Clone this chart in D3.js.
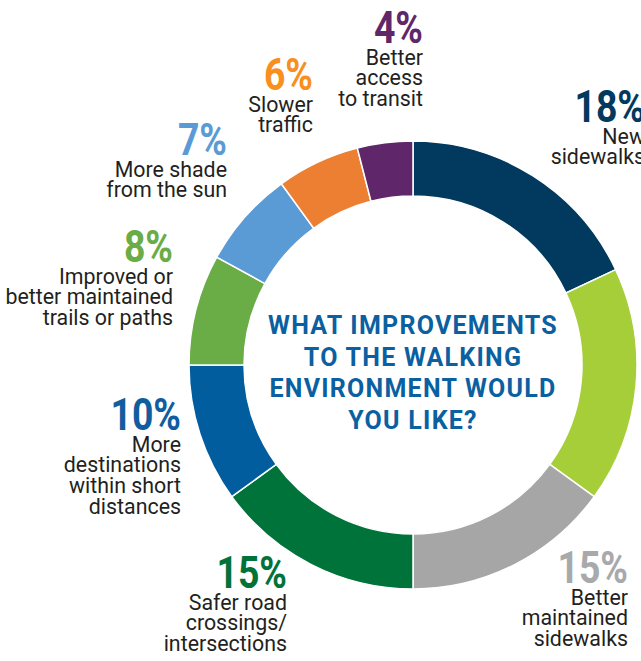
<!DOCTYPE html>
<meta charset="utf-8">
<script src="https://cdn.jsdelivr.net/npm/d3@7"></script>
<style>
  body { margin: 0; background: #fff; }
  text { font-family: Roboto, sans-serif; }
</style>
<div id="chart"></div>
<script>

    // data (clockwise from 12 o'clock)
    const categories = ["New sidewalks", "Better maintained sidewalks (lime)", "Better maintained sidewalks",
        "Safer road crossings/intersections", "More destinations within short distances",
        "Improved or better maintained trails or paths", "More shade from the sun",
        "Slower traffic", "Better access to transit"]
    const values = [18, 17, 15, 15, 10, 8, 7, 6, 4]
    const sliceColors = ["#02395e", "#a6ce39", "#a6a6a6", "#00733a", "#015d9e", "#6aac46", "#5b9bd5", "#ed7f32", "#5f2669"]
    const labelColors = ["#02395e", "#a6ce39", "#a7a9ac", "#00733a", "#105ea0", "#6aac46", "#5b9bd5", "#f7901e", "#5f2669"]
    const labelLines = [
        ["New", "sidewalks"],
        null,
        ["Better", "maintained", "sidewalks"],
        ["Safer road", "crossings/", "intersections"],
        ["More", "destinations", "within short", "distances"],
        ["Improved or", "better maintained", "trails or paths"],
        ["More shade", "from the sun"],
        ["Slower", "traffic"],
        ["Better", "access", "to transit"]
    ]
    const titleLines = ["WHAT IMPROVEMENTS", "TO THE WALKING", "ENVIRONMENT WOULD", "YOU LIKE?"]

    // layout: right edge and baseline of each percentage label
    const labelAnchor = [[645, 122], null, [628, 583], [287, 588], [181, 430], [173, 262], [227, 155], [313, 90], [423, 43]]

    const width = 641, height = 661
    const cx = 413, cy = 365, outerR = 224, innerR = 169

    const svg = d3.select("#chart")
        .append("svg")
        .attr("width", width)
        .attr("height", height)

    const pie = d3.pie().sort(null).value(d => d)
    const arc = d3.arc().innerRadius(innerR).outerRadius(outerR)

    const donut = svg.append("g").attr("transform", `translate(${cx}, ${cy})`)
    donut.selectAll("path")
        .data(pie(values))
        .join("path")
        .attr("d", arc)
        .attr("fill", (d, i) => sliceColors[i])
        .attr("stroke", "#fff")
        .attr("stroke-width", 1.5)

    // centre question
    donut.append("text")
        .attr("text-anchor", "middle")
        .attr("fill", "#0a60a0")
        .style("font-weight", 700)
        .style("font-size", "25px")
        .style("letter-spacing", "1.25px")
        .selectAll("tspan")
        .data(titleLines)
        .join("tspan")
        .attr("x", 0)
        .attr("y", (d, i) => -31 + i * 31.7)
        .text(d => d)

    // labels: big percentage, then the description underneath
    values.forEach(function (v, i) {
        if (!labelAnchor[i]) return
        const [x, y] = labelAnchor[i]
        svg.append("text")
            .attr("transform", `translate(${x}, ${y}) scale(0.85, 1)`)
            .attr("text-anchor", "end")
            .attr("fill", labelColors[i])
            .style("font-weight", 700)
            .style("font-size", "44px")
            .text(v + "%")
        svg.append("text")
            .attr("transform", `translate(${x}, ${y}) scale(0.93, 1)`)
            .attr("text-anchor", "end")
            .attr("fill", "#231f20")
            .style("font-size", "23px")
            .selectAll("tspan")
            .data(labelLines[i])
            .join("tspan")
            .attr("x", 0)
            .attr("y", (d, j) => 21.5 + j * 21)
            .text(d => d)
    })
</script>
